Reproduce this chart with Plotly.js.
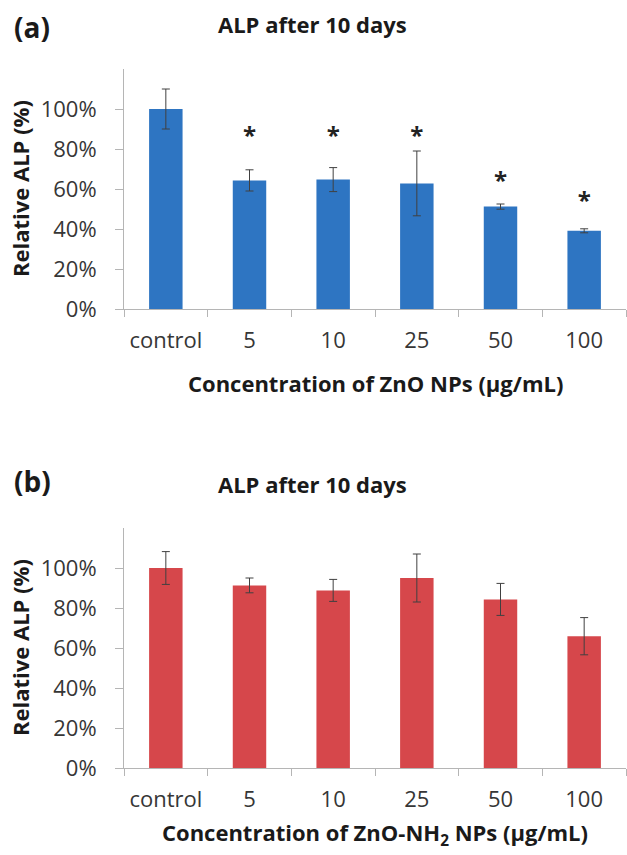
<!DOCTYPE html>
<html>
<head>
<meta charset="utf-8">
<script src="https://cdn.plot.ly/plotly-3.0.1.min.js"></script>
<style>html,body{margin:0;padding:0;background:#fff;}#chart{width:627px;height:855px;}</style>
</head>
<body>
<div id="chart"></div>
<script>
// ---- data ----
const categories = ['control', '5', '10', '25', '50', '100'];
const alpZnO   = [1.00, 0.643, 0.647, 0.628, 0.512, 0.391];
const errZnO   = [0.100, 0.053, 0.060, 0.162, 0.013, 0.010];
const sigZnO   = ['', '*', '*', '*', '*', '*'];
const sigPosZnO = [null, 0.855, 0.855, 0.855, 0.63, 0.53];
const alpNH2   = [1.00, 0.913, 0.888, 0.950, 0.843, 0.659];
const errNH2   = [0.082, 0.037, 0.055, 0.120, 0.080, 0.093];
const yTickVals = [0, 0.2, 0.4, 0.6, 0.8, 1.0];

const W = 627, H = 855;
const px = v => v / W;
const py = v => 1 - v / H;
const FONT = 'Open Sans';

// keep only categories that carry a significance mark
const sigIdx = sigZnO.map((s, i) => i).filter(i => sigZnO[i] !== '');

const errStyle = {type: 'data', visible: true, thickness: 1, width: 4, color: '#404040'};

const traces = [
  {type: 'bar', x: categories, y: alpZnO, xaxis: 'x', yaxis: 'y',
   marker: {color: '#2E75C2'}, error_y: Object.assign({array: errZnO}, errStyle),
   hoverinfo: 'skip', showlegend: false},
  {type: 'scatter', mode: 'text',
   x: sigIdx.map(i => categories[i]), y: sigIdx.map(i => sigPosZnO[i]),
   text: sigIdx.map(i => sigZnO[i]),
   xaxis: 'x', yaxis: 'y', textposition: 'middle center',
   textfont: {family: FONT, size: 24, color: '#222', weight: 'bold'},
   hoverinfo: 'skip', showlegend: false},
  {type: 'bar', x: categories, y: alpNH2, xaxis: 'x2', yaxis: 'y2',
   marker: {color: '#D6474B'}, error_y: Object.assign({array: errNH2}, errStyle),
   hoverinfo: 'skip', showlegend: false}
];

function xAxis(anchor) {
  return {domain: [px(124), px(626)], anchor: anchor, type: 'category',
    range: [-0.5, 5.5], showline: true, linecolor: '#b5b5b5', linewidth: 1,
    ticks: 'outside', tickson: 'boundaries', ticklen: 7, tickcolor: '#b5b5b5',
    tickfont: {family: FONT, size: 22, color: '#363636'}, ticklabelstandoff: 12,
    showgrid: false, zeroline: false, fixedrange: true};
}
function yAxis(anchor, top, bottom) {
  return {domain: [py(bottom), py(top)], anchor: anchor, range: [0, 1.2],
    tickvals: yTickVals, tickformat: '.0%', showline: true, linecolor: '#b5b5b5',
    linewidth: 1, ticks: 'outside', ticklen: 8, tickcolor: '#b5b5b5',
    tickfont: {family: FONT, size: 22, color: '#363636'}, ticklabelstandoff: 14,
    showgrid: false, zeroline: false, fixedrange: true};
}

const boldFont = (s) => ({family: FONT, size: s, color: '#1a1a1a', weight: 'bold'});
function ann(text, x, y, size, opts) {
  return Object.assign({text: text, x: x, y: y, xref: 'paper', yref: 'paper',
    showarrow: false, xanchor: 'center', yanchor: 'middle', font: boldFont(size)}, opts || {});
}

const layout = {
  width: W, height: H, margin: {l: 0, r: 0, t: 0, b: 0},
  paper_bgcolor: '#fff', plot_bgcolor: '#fff', bargap: 0.6, showlegend: false,
  xaxis: xAxis('y'), yaxis: yAxis('x', 69, 309),
  xaxis2: xAxis('y2'), yaxis2: yAxis('x2', 528, 768),
  annotations: [
    ann('(a)', px(12), py(27), 28, {xanchor: 'left'}),
    ann('ALP after 10 days', px(312), py(24), 22),
    ann('Relative ALP (%)', px(20), py(189), 22, {textangle: -90}),
    ann('Concentration of ZnO NPs (µg/mL)', px(375), py(383), 22),
    ann('(b)', px(12), py(481), 28, {xanchor: 'left'}),
    ann('ALP after 10 days', px(312), py(484), 22),
    ann('Relative ALP (%)', px(20), py(648), 22, {textangle: -90}),
    ann('Concentration of ZnO-NH<sub>2</sub> NPs (µg/mL)', px(375), py(834), 22)
  ]
};

Plotly.newPlot('chart', traces, layout, {staticPlot: true, displayModeBar: false});
</script>
</body>
</html>
